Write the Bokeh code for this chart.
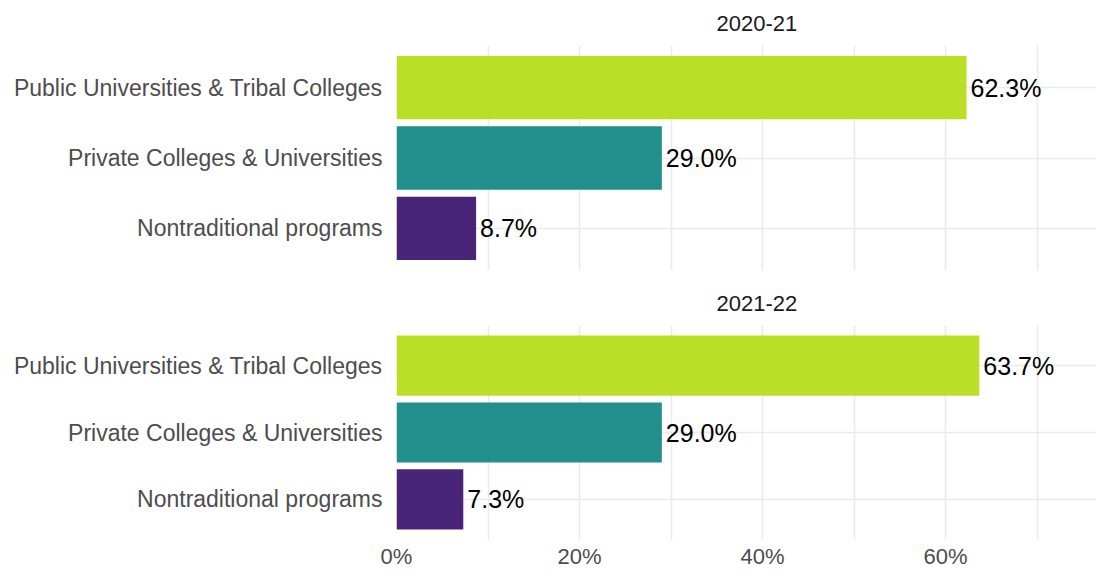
from bokeh.plotting import figure
from bokeh.layouts import column
from bokeh.models import (ColumnDataSource, FactorRange, Range1d, FixedTicker,
                          PrintfTickFormatter, Grid)
from bokeh.core.properties import value
from bokeh.embed import file_html
from bokeh.resources import INLINE

# ---- data ----
years = ["2020-21", "2021-22"]
categories = ["Public Universities & Tribal Colleges",
              "Private Colleges & Universities",
              "Nontraditional programs"]
share_2020_21 = [62.3, 29.0, 8.7]
share_2021_22 = [63.7, 29.0, 7.3]
bar_colors = ["#BBDF27", "#21908C", "#482576"]
x_ticks = [0, 20, 40, 60]
x_grid = [0, 10, 20, 30, 40, 50, 60, 70]

FONT = "Liberation Sans"
GRID = "#EBEBEB"
FIG_W = 1096
LEFT = 396
PX_PER_PCT = 9.15
X_MAX = (FIG_W - LEFT) / PX_PER_PCT


def facet(title, shares, show_x, height, top, bottom):
    p = figure(y_range=FactorRange(factors=list(reversed(categories)),
                                   range_padding=0.2 / 3),
               x_range=Range1d(0, X_MAX),
               width=FIG_W, height=height, output_backend="svg",
               toolbar_location=None, tools="",
               x_axis_location="below" if show_x else None,
               min_border_left=LEFT, min_border_right=0,
               min_border_top=top, min_border_bottom=bottom)
    p.outline_line_color = None
    p.background_fill_color = "white"
    p.border_fill_color = "white"

    # strip title
    p.title.text = title
    p.title.align = "left"
    p.title.offset = 320
    p.title.vertical_align = "middle"
    p.title.standoff = 28
    p.title.text_font = FONT
    p.title.text_font_size = "22px"
    p.title.text_font_style = "normal"
    p.title.text_color = "#1A1A1A"

    # vertical grid lines
    if show_x:
        p.xgrid.visible = False
    p.add_layout(Grid(dimension=0, ticker=FixedTicker(ticks=x_grid),
                      grid_line_color=GRID, grid_line_width=1.6))
    p.ygrid.grid_line_color = GRID
    p.ygrid.grid_line_width = 1.6

    src = ColumnDataSource(dict(
        cat=categories, val=shares, color=bar_colors,
        label=[f"{v:.1f}%" for v in shares]))
    p.hbar(y="cat", left=0, right="val", height=0.9, fill_color="color",
           line_color=None, source=src)
    p.text(x="val", y="cat", text="label", source=src,
           text_font=value(FONT), text_font_size="25px",
           text_color="black", text_align="left",
           text_baseline="middle", x_offset=4)

    ya = p.yaxis[0]
    ya.axis_line_color = None
    ya.major_tick_line_color = None
    ya.minor_tick_line_color = None
    ya.major_tick_out = 0
    ya.minor_tick_out = 0
    ya.major_label_standoff = 14
    ya.major_label_text_font = FONT
    ya.major_label_text_font_size = "23px"
    ya.major_label_text_color = "#4D4D4D"

    if show_x:
        xa = p.xaxis[0]
        xa.ticker = FixedTicker(ticks=x_ticks)
        xa.formatter = PrintfTickFormatter(format="%d%%")
        xa.axis_line_color = None
        xa.major_tick_line_color = None
        xa.minor_tick_line_color = None
        xa.major_tick_out = 0
        xa.minor_tick_out = 0
        xa.major_label_standoff = 4
        xa.major_label_text_font = FONT
        xa.major_label_text_font_size = "22px"
        xa.major_label_text_color = "#4D4D4D"
    return p


p1 = facet(years[0], share_2020_21, False, 280, 45, 10)
p2 = facet(years[1], share_2021_22, True, 291, 44, 28)

layout = column(p1, p2, spacing=0)
open("out.html", "w").write(file_html(layout, INLINE))
